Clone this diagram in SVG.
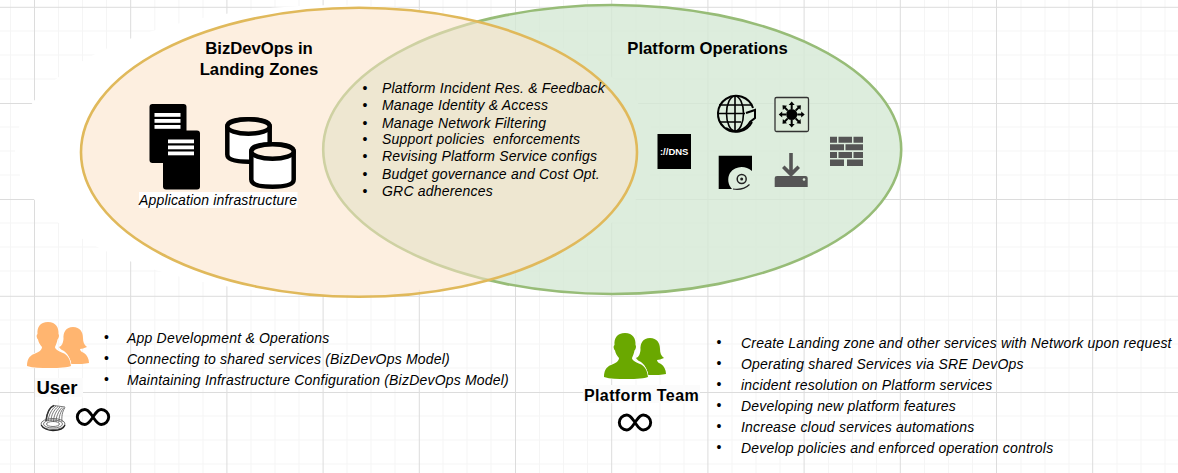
<svg xmlns="http://www.w3.org/2000/svg" xmlns:xlink="http://www.w3.org/1999/xlink" width="1178" height="473" viewBox="0 0 1178 473">
<style>
text{font-family:"Liberation Sans",Arial,sans-serif;fill:#000}
.t{font-weight:bold;font-size:16.7px;text-anchor:middle}
.i{font-style:italic;font-size:14px;letter-spacing:.2px}
.b{font-size:14px;text-anchor:middle}
.mi{stroke:#f5f5f5;stroke-width:1;fill:none}
.ma{stroke:#dcdcdc;stroke-width:1;fill:none}
.inf{fill:none;stroke:#000;stroke-width:2.900}
.dk{fill:#555}
.cyl{fill:#fff;stroke:#000;stroke-width:4.5}
.wf{fill:none;stroke:#555;stroke-width:.8}
</style>
<defs>
<g id="people">
<path d="M46 5C53 5 56 10 56 16C56 20 57 23 60 25C57 26 55 27 53 27C53 29 55 30 57 31C60 33 62 37 62 41C58 42 52 42 46 42L44 42C43 36 41 32 37 29C35 28 33 27 32 25C35 24 36 21 36.500 17C36 10 39 5 46 5Z"/>
<path stroke="#fff" stroke-width="1.600" paint-order="stroke" d="M21 0C29 0 32 6 31.500 12C32.500 13 32 16 30.500 17.500C30 20 29 23 28 25C28 27 31 29 36 31C41 33 43 37 44 44C38 46 28 46 22 46C14 46 6 46 0 44C0 38 2 34 7 32C12 30 15 28 15 25C13 23 11.500 20 11 17.500C9.500 16 9 13 10.500 12C10 5 13 0 21 0Z"/>
</g>
<path id="infinity" class="inf" d="M17 9C14.500 5.500 12.500 1.500 8.800 1.500A7.500 7.500 0 0 0 8.800 16.500C12.500 16.500 14.500 12.500 17 9C19.500 5.500 21.500 1.500 25.200 1.500A7.500 7.500 0 0 1 25.200 16.500C21.500 16.500 19.500 12.500 17 9Z"/>
<g id="server">
<rect width="37" height="59" rx="3" fill="#000"/>
<rect x="5" y="9" width="26" height="3.800" fill="#fff"/>
<rect x="5" y="15" width="26" height="3.800" fill="#fff"/>
<rect x="5" y="21" width="26" height="3.800" fill="#fff"/>
</g>
<g id="cylinder">
<path class="cyl" d="M2.300 9.500C2.300 4 11 2.300 23.500 2.300C36 2.300 44.700 4 44.700 9.500L44.700 37.500C44.700 43 36 44.700 23.500 44.700C11 44.700 2.300 43 2.300 37.500Z"/>
<ellipse cx="23.500" cy="9.500" rx="21.200" ry="7.200" fill="#fdefe0" stroke="#000" stroke-width="4.500"/>
</g>
<path id="arrow" d="M0 -5.500L-1 -5.500L-1 -9.500L-3 -9.500L0 -13L3 -9.500L1 -9.500L1 -5.500Z"/>
</defs>
<g id="grid">
<path class="mi" d="M10.500 0V473M58.500 0V473M82.500 0V473M106.500 0V473M154.800 0V473M178.900 0V473M203 0V473M251 0V473M275 0V473M299 0V473M347 0V473M371 0V473M395 0V473M443 0V473M467 0V473M491 0V473M539.500 0V473M563.500 0V473M587.500 0V473M636 0V473M660 0V473M684 0V473M732 0V473M756 0V473M780 0V473M828.500 0V473M852.500 0V473M876.500 0V473M924.500 0V473M948.500 0V473M972.500 0V473M1021 0V473M1045 0V473M1069 0V473M1117 0V473M1141 0V473M1165 0V473"/>
<path class="mi" d="M0 31H1178M0 55H1178M0 79H1178M0 127H1178M0 151H1178M0 175H1178M0 223H1178M0 247H1178M0 271H1178M0 320H1178M0 344H1178M0 368H1178M0 416H1178M0 440H1178M0 464H1178"/>
<path class="ma" d="M34.500 0V473M130.700 0V473M226.900 0V473M323.100 0V473M419.300 0V473M515.500 0V473M611.700 0V473M707.900 0V473M804.100 0V473M900.300 0V473M996.500 0V473M1092.700 0V473"/>
<path class="ma" d="M0 7.300H1178M0 103.500H1178M0 199.500H1178M0 296.300H1178M0 392.500H1178"/>
</g>
<ellipse id="halo" cx="335" cy="150" rx="320" ry="145" fill="#fff"/>
<g id="platform-operations">
<ellipse cx="612.200" cy="149.500" rx="289" ry="144.500" fill="#d5e8d4" fill-opacity=".8" stroke="#97bc77" stroke-width="2.600"/>
<text class="t" x="707.500" y="54">Platform Operations</text>
</g>
<g id="bizdevops">
<ellipse cx="359" cy="152.300" rx="278" ry="144.500" fill="#fbe2c6" fill-opacity=".55" stroke="#e0b95b" stroke-width="2.600"/>
<text class="t" x="259" y="54">BizDevOps in</text>
<text class="t" x="259" y="75">Landing Zones</text>
</g>
<g id="app-infra">
<use xlink:href="#server" href="#server" x="149.500" y="104"/>
<use xlink:href="#server" href="#server" x="163" y="130.500"/>
<use xlink:href="#cylinder" href="#cylinder" x="225" y="117"/>
<use xlink:href="#cylinder" href="#cylinder" x="249" y="142"/>
<rect x="139" y="192" width="158.500" height="16" fill="#fff"/>
<text class="i" x="139" y="205" style="letter-spacing:.16px">Application infrastructure</text>
</g>
<g id="shared-list">
<text class="b" x="365" y="93">•</text><text class="i" x="382" y="93">Platform Incident Res. &amp; Feedback</text>
<text class="b" x="365" y="110">•</text><text class="i" x="382" y="110">Manage Identity &amp; Access</text>
<text class="b" x="365" y="128">•</text><text class="i" x="382" y="128">Manage Network Filtering</text>
<text class="b" x="365" y="144">•</text><text class="i" x="382" y="144" xml:space="preserve" style="white-space:pre">Support policies  enforcements</text>
<text class="b" x="365" y="161">•</text><text class="i" x="382" y="161">Revising Platform Service configs</text>
<text class="b" x="365" y="179">•</text><text class="i" x="382" y="179">Budget governance and Cost Opt.</text>
<text class="b" x="365" y="196">•</text><text class="i" x="382" y="196">GRC adherences</text>
</g>
<g id="dns">
<rect x="657.500" y="134" width="33.500" height="35" fill="#000"/>
<text x="674.200" y="155" text-anchor="middle" style="font-size:9.500px;font-weight:bold;fill:#fff">://DNS</text>
</g>
<g id="globe" fill="none" stroke="#000" stroke-width="1.600">
<path d="M752 122A18 18 0 1 1 753 108" stroke-width="2"/>
<ellipse cx="735" cy="113.500" rx="8.500" ry="17.500"/>
<path d="M735 96V131M719 105H751M717.500 113.500H745M719 122H741"/>
<path d="M726 128C736 135 746 129 750 122L755 118V110L746 113" stroke-width="2"/>
</g>
<g id="switch">
<rect x="775" y="97.500" width="33.500" height="34" rx="1.500" fill="#dcebd9" stroke="#333" stroke-width="1.300"/>
<g transform="translate(791.700 114.500)" fill="#000">
<circle r="5.500"/>
<use xlink:href="#arrow" href="#arrow" transform="rotate(0)"/>
<use xlink:href="#arrow" href="#arrow" transform="rotate(45)"/>
<use xlink:href="#arrow" href="#arrow" transform="rotate(90)"/>
<use xlink:href="#arrow" href="#arrow" transform="rotate(135)"/>
<use xlink:href="#arrow" href="#arrow" transform="rotate(180)"/>
<use xlink:href="#arrow" href="#arrow" transform="rotate(225)"/>
<use xlink:href="#arrow" href="#arrow" transform="rotate(270)"/>
<use xlink:href="#arrow" href="#arrow" transform="rotate(315)"/>
</g>
</g>
<g id="disk">
<path d="M718.700 155.700H752V171C745 165 735 166 730 173C727 178 728 185 732 189H718.700Z" fill="#000"/>
<circle cx="741.700" cy="179" r="4.500" fill="none" stroke="#222" stroke-width="1.500"/>
<circle cx="741.700" cy="179" r="1.500" fill="#222"/>
<path d="M733 189C740 190 746 188 749.500 184.500" fill="none" stroke="#222" stroke-width="1.200"/>
</g>
<g id="download" class="dk">
<path d="M789.200 153H792.800V170L797.500 165.500L800 168L791 177L782 168L784.500 165.500L789.200 170Z"/>
<path d="M777 176H805.500Q807.700 176 807.700 178V187H774.700V178Q774.700 176 777 176Z"/>
<circle cx="804" cy="179.500" r="1.300" fill="#dcebd9"/>
</g>
<g id="firewall" class="dk">
<path d="M830 136.700h7v6h-7zM838.500 136.700h13.500v6h-13.500zM853.500 136.700h9.500v6h-9.500zM830 144.300h14v6h-14zM845.500 144.300h17.500v6h-17.500zM830 151.900h7v6h-7zM838.500 151.900h13.500v6h-13.500zM853.500 151.900h9.500v6h-9.500zM830 159.500h14v6.500h-14zM847 159.500h16v6.500h-16z"/>
</g>
<g id="user">
<use xlink:href="#people" href="#people" x="27" y="322" fill="#ffb570"/>
<rect x="35" y="378" width="48" height="19" fill="#fbfbfb"/>
<text x="57" y="393.500" text-anchor="middle" style="font-size:18.500px;font-weight:bold">User</text>
<g transform="translate(40 404)">
<path class="wf" d="M6 17C7 8 10 3 14 1.500L25 3M8 17C9 10 12 5 16 2M11 17C11 11 14 6 18 2.500M13.500 18C13.500 12 16 7 20 3M16 18C16 13 18 8 22 3.500M19 18C19 13 20 8 24 3.500M22 18C21.500 13 22 8 25 3.500"/>
<path d="M6 17C7 8 10 3 14 1.500" fill="none" stroke="#333" stroke-width="1.500"/>
<ellipse class="wf" cx="13" cy="20" rx="12" ry="5.500"/>
<ellipse class="wf" cx="13" cy="20" rx="9.500" ry="4"/>
<ellipse class="wf" cx="13" cy="20" rx="6.500" ry="2.500"/>
<path d="M1.200 21C3 25 9 26.500 13 26.500C18 26.500 23.500 25 25 21" fill="none" stroke="#222" stroke-width="1.300"/>
</g>
<use xlink:href="#infinity" href="#infinity" x="76" y="408"/>
</g>
<g id="user-list">
<text class="b" x="106.500" y="342">•</text><text class="i" x="127" y="343">App Development &amp; Operations</text>
<text class="b" x="106.500" y="363">•</text><text class="i" x="127" y="364">Connecting to shared services (BizDevOps Model)</text>
<text class="b" x="106.500" y="384">•</text><text class="i" x="127" y="385">Maintaining Infrastructure Configuration (BizDevOps Model)</text>
</g>
<g id="platform-team">
<use xlink:href="#people" href="#people" x="604" y="333" fill="#6aa800"/>
<rect x="583" y="385" width="117" height="18" fill="#fbfbfb"/>
<text x="641.500" y="401" text-anchor="middle" style="font-size:16px;font-weight:bold;letter-spacing:.4px">Platform Team</text>
<use xlink:href="#infinity" href="#infinity" x="618" y="413.500"/>
</g>
<g id="platform-list">
<text class="b" x="719" y="347">•</text><text class="i" x="741" y="348">Create Landing zone and other services with Network upon request</text>
<text class="b" x="719" y="368">•</text><text class="i" x="741" y="369">Operating shared Services via SRE DevOps</text>
<text class="b" x="719" y="389">•</text><text class="i" x="741" y="390">incident resolution on Platform services</text>
<text class="b" x="719" y="410">•</text><text class="i" x="741" y="411">Developing new platform features</text>
<text class="b" x="719" y="431">•</text><text class="i" x="741" y="432">Increase cloud services automations</text>
<text class="b" x="719" y="452">•</text><text class="i" x="741" y="453">Develop policies and enforced operation controls</text>
</g>
</svg>
